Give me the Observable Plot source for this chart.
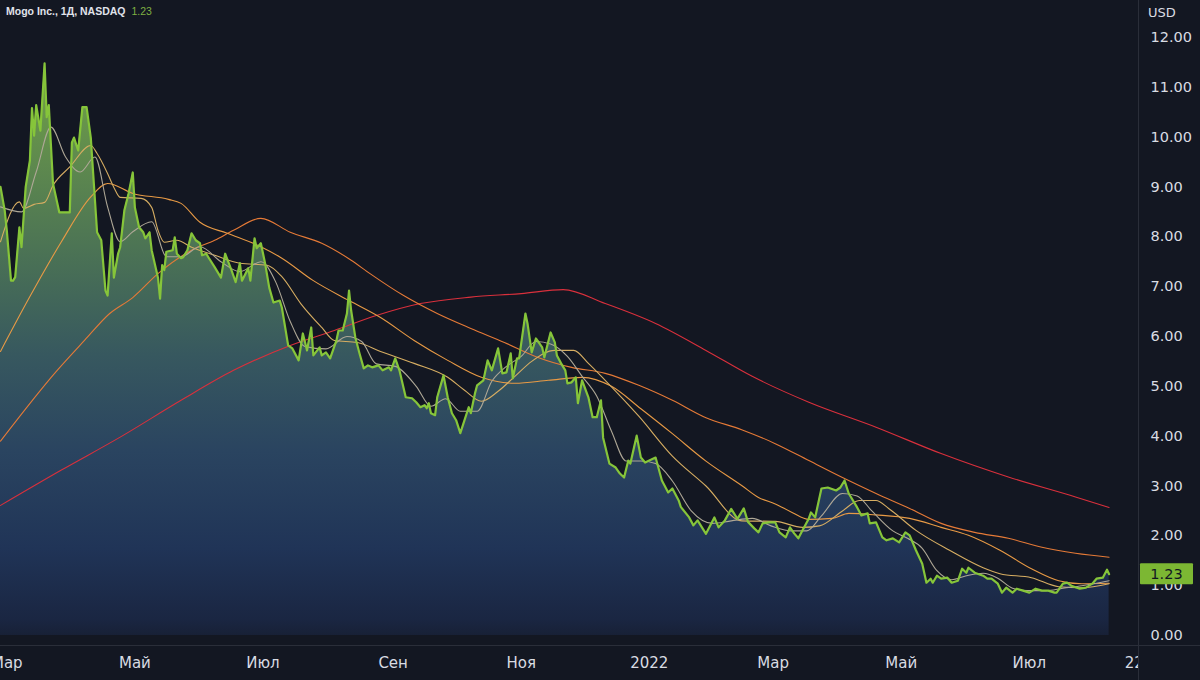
<!DOCTYPE html>
<html>
<head>
<meta charset="utf-8">
<script src="https://cdn.jsdelivr.net/npm/d3@7"></script>
<script src="https://cdn.jsdelivr.net/npm/@observablehq/plot@0.6"></script>
<style>
  html, body { margin: 0; padding: 0; background: #131722; overflow: hidden; }
  #wrap { position: relative; width: 1200px; height: 680px; }
  #title { position: absolute; left: 6px; top: 5px; font: 600 10.5px "Liberation Sans", Arial, sans-serif; color: #e0e3eb; white-space: nowrap; }
  #title .last { color: #7fb043; margin-left: 6px; font-weight: 400; }
  #unit { position: absolute; left: 1148px; top: 5px; font: 13px "DejaVu Sans", sans-serif; color: #d9dce3; }
</style>
</head>
<body>
<div id="wrap">
  <div id="chart"></div>
  <div id="title">Mogo Inc., 1Д, NASDAQ<span class="last">1.23</span></div>
  <div id="unit">USD</div>
</div>
<script>
// ---- data ----
const price = [
["2021-02-26",9.00],["2021-02-28",8.53],["2021-03-01",8.13],["2021-03-03",7.12],["2021-03-04",7.12],["2021-03-05",7.19],["2021-03-07",8.19],["2021-03-08",7.79],["2021-03-10",9.00],["2021-03-12",9.53],["2021-03-13",10.58],["2021-03-14",10.03],["2021-03-15",10.64],["2021-03-17",10.13],["2021-03-19",11.48],["2021-03-20",10.40],["2021-03-21",10.64],["2021-03-23",9.07],["2021-03-26",8.49],["2021-03-31",8.49],["2021-04-01",9.89],["2021-04-02",9.99],["2021-04-04",9.73],["2021-04-06",10.60],["2021-04-08",10.60],["2021-04-10",9.99],["2021-04-13",8.09],["2021-04-15",7.93],["2021-04-17",6.92],["2021-04-18",6.82],["2021-04-20",8.07],["2021-04-21",7.18],["2021-04-23",7.66],["2021-04-24",7.79],["2021-04-26",8.53],["2021-04-28",8.87],["2021-04-30",9.29],["2021-05-01",8.59],["2021-05-03",8.19],["2021-05-05",8.09],["2021-05-06",7.97],["2021-05-08",8.09],["2021-05-09",7.73],["2021-05-12",7.18],["2021-05-13",6.76],["2021-05-14",7.43],["2021-05-15",7.33],["2021-05-16",7.70],["2021-05-19",7.73],["2021-05-20",7.99],["2021-05-21",7.66],["2021-05-23",7.57],["2021-05-24",7.59],["2021-05-26",7.73],["2021-05-28",8.07],["2021-05-30",7.93],["2021-06-01",7.87],["2021-06-02",7.63],["2021-06-04",7.66],["2021-06-05",7.59],["2021-06-08",7.39],["2021-06-11",7.18],["2021-06-13",7.66],["2021-06-16",7.33],["2021-06-18",7.09],["2021-06-20",7.47],["2021-06-21",7.12],["2021-06-24",7.37],["2021-06-25",7.12],["2021-06-27",7.97],["2021-06-28",7.77],["2021-06-30",7.87],["2021-07-02",7.47],["2021-07-04",6.98],["2021-07-06",6.68],["2021-07-09",6.72],["2021-07-10",6.58],["2021-07-13",5.82],["2021-07-15",5.76],["2021-07-18",5.52],["2021-07-20",6.06],["2021-07-22",5.72],["2021-07-24",6.18],["2021-07-25",5.62],["2021-07-28",5.78],["2021-07-29",5.62],["2021-07-31",5.68],["2021-08-02",5.56],["2021-08-05",5.92],["2021-08-06",6.12],["2021-08-08",6.12],["2021-08-10",6.46],["2021-08-11",6.92],["2021-08-12",6.52],["2021-08-14",5.98],["2021-08-16",5.66],["2021-08-18",5.36],["2021-08-20",5.42],["2021-08-22",5.38],["2021-08-25",5.42],["2021-08-27",5.32],["2021-08-30",5.38],["2021-08-31",5.32],["2021-09-02",5.56],["2021-09-04",5.32],["2021-09-07",4.78],["2021-09-10",4.76],["2021-09-12",4.68],["2021-09-14",4.58],["2021-09-16",4.62],["2021-09-17",4.56],["2021-09-18",4.66],["2021-09-19",4.46],["2021-09-21",4.42],["2021-09-22",4.78],["2021-09-25",5.22],["2021-09-27",4.78],["2021-09-29",4.46],["2021-10-01",4.32],["2021-10-03",4.06],["2021-10-05",4.32],["2021-10-07",4.58],["2021-10-08",4.46],["2021-10-10",4.86],["2021-10-11",5.02],["2021-10-14",5.12],["2021-10-16",5.52],["2021-10-18",5.32],["2021-10-21",5.76],["2021-10-23",5.26],["2021-10-25",5.28],["2021-10-27",5.66],["2021-10-28",5.16],["2021-10-30",5.56],["2021-10-31",5.56],["2021-11-03",6.46],["2021-11-04",6.26],["2021-11-06",5.68],["2021-11-08",5.96],["2021-11-11",5.78],["2021-11-12",5.58],["2021-11-15",6.08],["2021-11-17",5.88],["2021-11-18",5.62],["2021-11-20",5.46],["2021-11-22",5.32],["2021-11-23",5.06],["2021-11-25",5.08],["2021-11-27",5.18],["2021-11-28",4.66],["2021-11-30",5.12],["2021-12-03",4.78],["2021-12-05",4.38],["2021-12-07",4.38],["2021-12-09",4.72],["2021-12-10",3.97],["2021-12-13",3.45],["2021-12-16",3.37],["2021-12-18",3.25],["2021-12-20",3.17],["2021-12-22",3.51],["2021-12-23",3.45],["2021-12-26",4.01],["2021-12-28",3.57],["2021-12-30",3.47],["2022-01-01",3.51],["2022-01-04",3.57],["2022-01-07",3.11],["2022-01-10",2.87],["2022-01-12",2.95],["2022-01-15",2.71],["2022-01-16",2.58],["2022-01-20",2.37],["2022-01-22",2.21],["2022-01-24",2.31],["2022-01-28",2.04],["2022-02-01",2.37],["2022-02-03",2.17],["2022-02-06",2.31],["2022-02-09",2.54],["2022-02-12",2.34],["2022-02-15",2.55],["2022-02-17",2.28],["2022-02-20",2.15],["2022-02-22",2.07],["2022-02-24",2.25],["2022-02-27",2.27],["2022-03-02",2.27],["2022-03-04",2.07],["2022-03-07",1.97],["2022-03-09",2.17],["2022-03-11",2.05],["2022-03-13",1.95],["2022-03-15",2.11],["2022-03-18",2.35],["2022-03-19",2.47],["2022-03-21",2.37],["2022-03-24",2.95],["2022-03-27",2.97],["2022-03-31",2.91],["2022-04-02",2.97],["2022-04-04",3.11],["2022-04-06",2.85],["2022-04-10",2.57],["2022-04-12",2.41],["2022-04-15",2.45],["2022-04-16",2.25],["2022-04-19",2.27],["2022-04-22",1.97],["2022-04-24",1.91],["2022-04-27",1.95],["2022-04-30",1.87],["2022-05-03",2.07],["2022-05-05",2.01],["2022-05-08",1.71],["2022-05-11",1.44],["2022-05-13",1.06],["2022-05-15",1.14],["2022-05-16",1.06],["2022-05-18",1.20],["2022-05-20",1.14],["2022-05-23",1.16],["2022-05-25",1.06],["2022-05-28",1.10],["2022-05-30",1.34],["2022-06-01",1.26],["2022-06-02",1.36],["2022-06-05",1.26],["2022-06-09",1.20],["2022-06-11",1.14],["2022-06-13",1.14],["2022-06-16",1.04],["2022-06-18",0.86],["2022-06-20",0.96],["2022-06-23",0.86],["2022-06-25",0.94],["2022-06-28",0.90],["2022-07-01",0.86],["2022-07-04",0.94],["2022-07-07",0.90],["2022-07-10",0.90],["2022-07-13",0.86],["2022-07-14",0.86],["2022-07-17",1.04],["2022-07-19",1.06],["2022-07-21",1.00],["2022-07-25",0.94],["2022-07-28",0.96],["2022-07-31",1.04],["2022-08-02",1.14],["2022-08-05",1.16],["2022-08-07",1.32],["2022-08-08",1.23]
];

const ma10 = [
["2021-02-26",8.6],["2021-03-08",8.5],["2021-03-15",9.3],["2021-03-22",10.2],["2021-03-29",9.6],["2021-04-05",9.3],["2021-04-12",9.6],["2021-04-18",8.6],["2021-04-24",7.9],["2021-04-30",8.1],["2021-05-09",8.3],["2021-05-16",7.6],["2021-05-23",7.6],["2021-06-01",7.8],["2021-06-11",7.5],["2021-06-20",7.3],["2021-06-30",7.5],["2021-07-07",7.1],["2021-07-14",6.3],["2021-07-21",5.8],["2021-07-31",5.75],["2021-08-10",6.0],["2021-08-17",5.9],["2021-08-24",5.45],["2021-09-02",5.4],["2021-09-12",5.0],["2021-09-19",4.6],["2021-09-26",4.75],["2021-10-03",4.5],["2021-10-11",4.5],["2021-10-18",5.1],["2021-10-25",5.4],["2021-11-01",5.6],["2021-11-08",5.9],["2021-11-15",5.85],["2021-11-23",5.6],["2021-11-30",5.2],["2021-12-07",4.8],["2021-12-14",4.1],["2021-12-21",3.5],["2021-12-28",3.5],["2022-01-04",3.45],["2022-01-12",3.1],["2022-01-21",2.5],["2022-01-31",2.25],["2022-02-09",2.3],["2022-02-19",2.35],["2022-02-28",2.2],["2022-03-10",2.1],["2022-03-17",2.1],["2022-03-24",2.4],["2022-04-03",2.85],["2022-04-10",2.8],["2022-04-17",2.5],["2022-04-27",2.1],["2022-05-04",1.95],["2022-05-11",1.75],["2022-05-18",1.3],["2022-05-25",1.12],["2022-06-01",1.2],["2022-06-09",1.25],["2022-06-16",1.15],["2022-06-23",0.95],["2022-06-30",0.9],["2022-07-09",0.9],["2022-07-17",0.95],["2022-07-26",1.0],["2022-08-02",1.05],["2022-08-08",1.1]
];

const ma20 = [
["2021-02-26",7.9],["2021-03-07",8.7],["2021-03-09",8.57],["2021-03-14",8.65],["2021-03-19",8.69],["2021-03-23",9.03],["2021-03-31",9.4],["2021-04-10",9.83],["2021-04-13",9.67],["2021-04-18",9.27],["2021-04-21",8.99],["2021-04-24",8.79],["2021-05-04",8.77],["2021-05-09",8.59],["2021-05-12",8.13],["2021-05-15",7.89],["2021-05-21",7.93],["2021-05-28",7.79],["2021-06-08",7.63],["2021-06-20",7.47],["2021-07-03",7.43],["2021-07-10",7.2],["2021-07-19",6.66],["2021-07-29",6.18],["2021-08-04",5.92],["2021-08-15",5.88],["2021-08-26",5.7],["2021-09-11",5.46],["2021-09-27",5.18],["2021-10-05",4.92],["2021-10-13",4.7],["2021-10-21",4.9],["2021-10-29",5.2],["2021-11-06",5.5],["2021-11-17",5.72],["2021-11-26",5.72],["2021-12-03",5.46],["2021-12-11",5.12],["2021-12-27",4.4],["2022-01-12",3.6],["2022-01-28",3.0],["2022-02-14",2.3],["2022-03-02",2.29],["2022-03-15",2.17],["2022-03-23",2.2],["2022-04-03",2.5],["2022-04-11",2.71],["2022-04-19",2.71],["2022-04-25",2.55],["2022-05-08",2.11],["2022-05-24",1.71],["2022-06-09",1.36],["2022-06-17",1.24],["2022-07-02",1.16],["2022-07-15",0.98],["2022-07-26",0.96],["2022-08-08",1.04]
];

const ma50 = [
["2021-02-26",5.7],["2021-03-12",6.8],["2021-03-27",7.9],["2021-04-10",8.8],["2021-04-18",9.07],["2021-04-30",8.87],["2021-05-17",8.75],["2021-05-23",8.67],["2021-06-01",8.29],["2021-06-14",8.07],["2021-06-30",7.8],["2021-07-10",7.57],["2021-07-25",7.12],["2021-08-11",6.72],["2021-08-26",6.38],["2021-09-11",5.92],["2021-09-27",5.52],["2021-10-13",5.18],["2021-10-29",5.06],["2021-11-14",5.12],["2021-11-30",5.18],["2021-12-14",5.0],["2021-12-28",4.55],["2022-01-12",4.05],["2022-01-28",3.5],["2022-02-14",3.01],["2022-02-22",2.77],["2022-03-02",2.64],["2022-03-10",2.47],["2022-03-18",2.33],["2022-03-29",2.35],["2022-04-06",2.45],["2022-04-19",2.42],["2022-05-05",2.35],["2022-05-20",2.17],["2022-06-02",2.01],["2022-06-17",1.71],["2022-07-02",1.34],["2022-07-15",1.10],["2022-07-26",1.04],["2022-08-08",1.05]
];

const ma100 = [
["2021-02-26",3.9],["2021-03-25",5.32],["2021-04-07",5.92],["2021-04-19",6.46],["2021-04-30",6.78],["2021-05-12",7.26],["2021-05-28",7.73],["2021-06-08",7.93],["2021-06-17",8.13],["2021-06-30",8.37],["2021-07-14",8.09],["2021-07-29",7.87],["2021-08-12",7.53],["2021-08-21",7.26],["2021-09-06",6.82],["2021-09-22",6.46],["2021-10-08",6.16],["2021-10-24",5.88],["2021-11-09",5.58],["2021-11-25",5.38],["2021-12-11",5.26],["2021-12-27",5.02],["2022-01-12",4.72],["2022-01-28",4.37],["2022-02-14",4.13],["2022-03-02",3.85],["2022-03-18",3.51],["2022-04-03",3.17],["2022-04-19",2.85],["2022-05-05",2.55],["2022-05-20",2.25],["2022-06-05",2.07],["2022-06-21",1.95],["2022-07-07",1.77],["2022-07-23",1.65],["2022-08-08",1.57]
];

const ma200 = [
["2021-02-26",2.61],["2021-03-27",3.32],["2021-04-24",3.98],["2021-05-23",4.72],["2021-06-17",5.32],["2021-07-14",5.82],["2021-08-04",6.12],["2021-08-24",6.42],["2021-09-14",6.66],["2021-10-08",6.79],["2021-11-01",6.86],["2021-11-21",6.94],["2021-12-11",6.66],["2022-01-04",6.26],["2022-01-28",5.72],["2022-02-19",5.20],["2022-03-18",4.68],["2022-04-19",4.18],["2022-05-20",3.65],["2022-06-21",3.18],["2022-07-23",2.78],["2022-08-08",2.57]
];

const xTickDates = ["2021-03-01","2021-05-01","2021-07-01","2021-09-01","2021-11-01","2022-01-01","2022-03-01","2022-05-01","2022-07-01","2022-08-20"];
const xTickLabels = ["Мар","Май","Июл","Сен","Ноя","2022","Мар","Май","Июл","22"];
const yTicks = [0,1,2,3,4,5,6,7,8,9,10,11,12];
const lastPrice = 1.23;

// ---- build ----
const toRows = arr => arr.map(([d, v]) => ({date: new Date(d), v}));
const P = toRows(price);
const maSeries = [
  {rows: toRows(ma200), color: "#d9303c"},
  {rows: toRows(ma100), color: "#e57a37"},
  {rows: toRows(ma50),  color: "#e89a45"},
  {rows: toRows(ma20),  color: "#d6ad62"},
  {rows: toRows(ma10),  color: "#aea796"}
];
const labelMap = new Map(xTickDates.map((d, i) => [+new Date(d), xTickLabels[i]]));

const W = 1200, H = 680, MR = 62, MB = 35;
const chart = Plot.plot({
  width: W, height: H,
  marginLeft: 0, marginRight: MR, marginTop: 0, marginBottom: MB,
  style: {background: "#131722", color: "#d9dce3", fontFamily: "DejaVu Sans, sans-serif", fontSize: "14.5px", overflow: "hidden"},
  x: {type: "utc", domain: [new Date("2021-02-26"), new Date("2022-08-22")]},
  y: {domain: [-0.2, 12.74]},
  marks: [
    Plot.areaY(P, {x: "date", y1: 0, y2: "v", fill: "url(#mogoGrad)"}),
    ...maSeries.map(s => Plot.line(s.rows, {x: "date", y: "v", stroke: s.color, strokeWidth: 1.1, curve: "monotone-x"})),
    Plot.line(P, {x: "date", y: "v", stroke: "#86c53a", strokeWidth: 2.2, strokeLinejoin: "round"}),
    Plot.axisX({ticks: xTickDates.map(d => new Date(d)), tickFormat: d => labelMap.get(+d), tickSize: 0, tickPadding: 12, fill: "#d9dce3", fontSize: 15, label: null}),
    Plot.axisY({anchor: "right", ticks: yTicks, tickFormat: d3.format(".2f"), tickSize: 0, tickPadding: 12, textAnchor: "start", fill: "#d9dce3", fontSize: 14.5, label: null})
  ]
});
document.getElementById("chart").appendChild(chart);

const svg = d3.select(chart);
const defs = svg.insert("defs", ":first-child");
const g = defs.append("linearGradient").attr("id", "mogoGrad")
  .attr("gradientUnits", "userSpaceOnUse").attr("x1", 0).attr("x2", 0).attr("y1", 0).attr("y2", H - MB);
[[0, "#80b248"], [0.15, "#6c9a49"], [0.4, "#4a7155"], [0.55, "#37585f"], [0.7, "#2a4460"], [0.85, "#203457"], [0.96, "#1a2642"], [1, "#161d2f"]]
  .forEach(([o, c]) => g.append("stop").attr("offset", o).attr("stop-color", c));

const px = W - MR, py = H - MB;
const ov = svg.append("g");
ov.append("rect").attr("x", px + 0.5).attr("y", py + 1).attr("width", MR).attr("height", MB).attr("fill", "#131722");
ov.append("line").attr("x1", 0).attr("x2", W).attr("y1", py + 0.5).attr("y2", py + 0.5).attr("stroke", "#2a2e39");
ov.append("line").attr("x1", px + 0.5).attr("x2", px + 0.5).attr("y1", 0).attr("y2", H).attr("stroke", "#2a2e39");
const yb = chart.scale("y").apply(lastPrice);
ov.append("rect").attr("x", px + 2).attr("y", yb - 10.5).attr("width", 53).attr("height", 21).attr("fill", "#7cb733").attr("rx", 1);
ov.append("text").attr("x", px + 28.5).attr("y", yb).attr("dy", "0.35em").attr("text-anchor", "middle")
  .attr("fill", "#131722").attr("font-size", 14.5).attr("font-family", "DejaVu Sans, sans-serif").text(lastPrice.toFixed(2));
</script>
</body>
</html>
